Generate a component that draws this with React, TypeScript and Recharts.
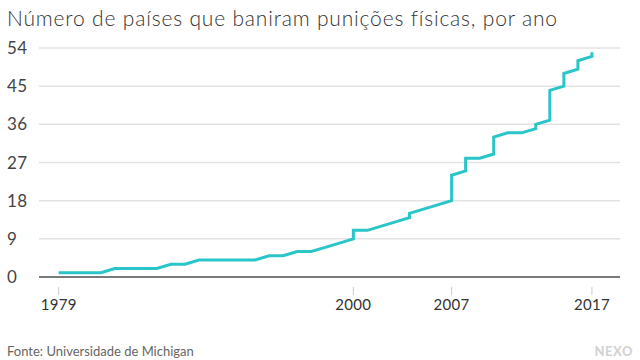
import React from "react";
import { LineChart, Line, XAxis, YAxis, CartesianGrid } from "recharts";

const years = [
  1979, 1980, 1981, 1982, 1983, 1984, 1985, 1986, 1987, 1988, 1989, 1990, 1991, 1992, 1993,
  1994, 1995, 1996, 1997, 1998, 1999, 2000, 2000, 2001, 2002, 2003, 2004, 2004, 2005, 2006,
  2007, 2007, 2008, 2008, 2009, 2010, 2010, 2011, 2012, 2013, 2013, 2014, 2014, 2015, 2015,
  2016, 2016, 2017, 2017,
];
const countries = [
  1, 1, 1, 1, 2, 2, 2, 2, 3, 3, 4, 4, 4, 4, 4,
  5, 5, 6, 6, 7, 8, 9, 11, 11, 12, 13, 14, 15, 16, 17,
  18, 24, 25, 28, 28, 29, 33, 34, 34, 35, 36, 37, 44, 45, 48,
  49, 51, 52, 53,
];
const xTicks = [1979, 2000, 2007, 2017];
const yTicks = [0, 9, 18, 27, 36, 45, 54];

const title = "Número de países que baniram punições físicas, por ano";
const source = "Fonte: Universidade de Michigan";
const brand = "NEXO";

const data = years.map((y, i) => ({ year: y, value: countries[i] }));

const FONT = "Lato, 'Open Sans', sans-serif";

const XTick = (props: any) => {
  const { x, y, payload } = props;
  return (
    <g>
      <line x1={x} x2={x} y1={y + 10} y2={y + 18} stroke="#cccccc" strokeWidth={1} />
      <text x={x} y={y + 33} textAnchor="middle" fill="#333" fontSize={15} fontFamily={FONT} letterSpacing={0.3}>
        {payload.value}
      </text>
    </g>
  );
};

const YTick = (props: any) => {
  const { y, payload } = props;
  return (
    <text x={7} y={y + 6} textAnchor="start" fill="#444" fontSize={17} fontFamily={FONT} letterSpacing={0.3}>
      {payload.value}
    </text>
  );
};

export default function App() {
  return (
    <div style={{ position: "absolute", left: 0, top: 0, width: 640, height: 360, background: "#fff", fontFamily: FONT }}>
      <div style={{ position: "absolute", left: 7, top: 5, fontSize: 21, fontWeight: 300, color: "#333", whiteSpace: "nowrap", letterSpacing: 0.82 }}>
        {title}
      </div>
      <LineChart width={640} height={360} data={data} margin={{ top: 48, right: 20, bottom: 43, left: 0 }}>
        <CartesianGrid horizontal={true} vertical={false} stroke="#e2e2e2" strokeWidth={1.5} />
        <XAxis
          dataKey="year"
          type="number"
          domain={[1977.6, 2019]}
          ticks={xTicks}
          allowDataOverflow
          height={40}
          axisLine={{ stroke: "#555", strokeWidth: 1.5 }}
          tickLine={false}
          tickSize={0}
          tickMargin={0}
          tick={<XTick />}
          interval={0}
        />
        <YAxis
          type="number"
          domain={[0, 54]}
          ticks={yTicks}
          width={39}
          axisLine={false}
          tickLine={false}
          tick={<YTick />}
          interval={0}
        />
        <Line
          type="linear"
          dataKey="value"
          stroke="#29c5c8"
          strokeWidth={3}
          dot={false}
          isAnimationActive={false}
        />
      </LineChart>
      <div style={{ position: "absolute", left: 7, top: 343, fontSize: 13, color: "#666", whiteSpace: "nowrap" }}>
        {source}
      </div>
      <div style={{ position: "absolute", right: 7, top: 343, fontSize: 13, fontWeight: 900, color: "#d3d3d3", letterSpacing: 0.5 }}>
        {brand}
      </div>
    </div>
  );
}
